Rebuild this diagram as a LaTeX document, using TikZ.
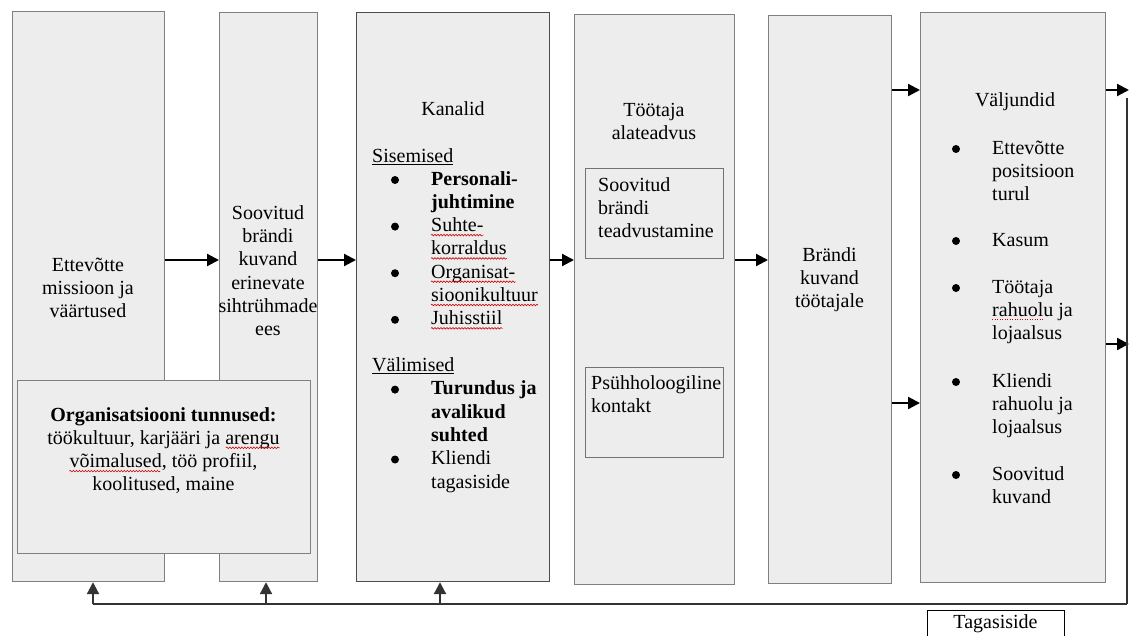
\documentclass[tikz,border=0pt]{standalone}
\usepackage{fontspec}
\setmainfont{Liberation Serif}
\usetikzlibrary{arrows.meta,decorations.pathmorphing}

% underlined headings
\newsavebox\markbox
\newcommand\heading[1]{\sbox\markbox{#1}\rlap{\rule[-2.8pt]{\wd\markbox}{1.3pt}}\usebox\markbox}

\begin{document}
\begin{tikzpicture}[x=1pt,y=-1pt,
  panel/.style={draw=black!50, fill=black!7, line width=1.2pt, inner sep=0pt, anchor=north west},
  innerbox/.style={draw=black!55, fill=black!7, line width=1pt, inner sep=0pt, anchor=north west},
  txt/.style={inner sep=0pt, font=\fontsize{20}{23.3}\selectfont},
  ctxt/.style={txt, anchor=north, align=center},
  ltxt/.style={txt, anchor=north west, align=left},
  line/.style={txt, anchor=base west},
  cline/.style={txt, anchor=base},
  flow/.style={line width=2.2pt, -{Triangle[length=12pt,width=12pt]}},
  back/.style={line width=2pt, draw=black!80},
  bul/.style={fill=black},
  wave/.style={draw=red!80!black, line width=0.6pt, decorate,
    decoration={snake, amplitude=0.8pt, segment length=3pt}},
  dots/.style={draw=red!80!black, line width=0.9pt, dash pattern=on 0.9pt off 1.6pt}
]
\useasboundingbox (0,0) rectangle (1129,635);
\fill[white] (0,0) rectangle (1129,635);

% main columns
\node[panel, minimum width=152pt, minimum height=570pt] (b1) at (12,11) {};
\node[panel, minimum width=98pt,  minimum height=569pt] (b2) at (219,12) {};
\node[panel, minimum width=193pt, minimum height=569pt, draw=black!70] (b3) at (356,12) {};
\node[panel, minimum width=160pt, minimum height=570pt] (b4) at (574,14) {};
\node[panel, minimum width=123pt, minimum height=568pt] (b5) at (768,15) {};
\node[panel, minimum width=185pt, minimum height=570pt] (b6) at (920,12) {};

% overlapping box of organisation features
\node[panel, minimum width=293pt, minimum height=173pt] (org) at (17,380) {};

% boxes inside the fourth column
\node[innerbox, minimum width=138pt, minimum height=90pt] (in1) at (585,168) {};
\node[innerbox, minimum width=138pt, minimum height=90pt] (in2) at (585,367) {};

% feedback label box
\node[draw=black, line width=1pt, fill=white, minimum width=137pt, minimum height=40pt, inner sep=0pt, anchor=north west] (tag) at (927,610) {};

% forward arrows
\draw[flow] (b1.east |- 0,260) -- (b2.west |- 0,260);
\draw[flow] (b2.east |- 0,260) -- (b3.west |- 0,260);
\draw[flow] (b3.east |- 0,260) -- (b4.west |- 0,260);
\draw[flow] (b4.east |- 0,260) -- (b5.west |- 0,260);
\draw[flow] (b5.east |- 0,90) -- (b6.west |- 0,90);
\draw[flow] (b5.east |- 0,403) -- (b6.west |- 0,403);

% outputs and feedback loop
\coordinate (out1) at (1129,90);
\coordinate (out2) at (1129,344);
\coordinate (fbtop) at (1127,98);
\coordinate (fbcorner) at (1127,604);
\coordinate (fbend) at (93,604);
\coordinate (fb2) at (266,604);
\coordinate (fb3) at (440,604);
\draw[flow] (b6.east |- out1) -- (out1);
\draw[flow] (b6.east |- out2) -- (out2);
\draw[back, line width=1.6pt] (fbtop) -- (fbcorner);
\draw[back] (fbcorner) -- (fbend);
\draw[back, flow] (fbend) -- (fbend |- b1.south);
\draw[back, flow] (fb2) -- (fb2 |- b2.south);
\draw[back, flow] (fb3) -- (fb3 |- b3.south);

% column 1
\node[ctxt] (t1) at (88,254.7) {\strut Ettevõtte\\missioon ja\\väärtused};
% column 2
\node[ctxt] (t2) at (268,202.7) {\strut Soovitud\\brändi\\kuvand\\erinevate\\sihtrühmade\\ees};

% organisation features
\node[cline] (g1) at (163.5,421) {\textbf{Organisatsiooni tunnused:}};
\node[cline] (g2) at (163.5,444.3) {töökultuur, karjääri ja arengu};
\node[cline] (g3) at (163.5,467.6) {võimalused, töö profiil,};
\node[cline] (g4) at (163.5,490.9) {koolitused, maine};
\draw[wave] ([xshift=-54pt,yshift=-3.5pt]g2.base east) -- ([yshift=-3.5pt]g2.base east);
\draw[wave] ([yshift=-3.5pt]g3.base west) -- ([xshift=91pt,yshift=-3.5pt]g3.base west);

% column 3: channels
\node[cline] (t3) at (453,115) {Kanalid};
\node[line] (sis) at (372,162) {\heading{Sisemised}};
\node[line] (s1) at (431,185) {\textbf{Personali-}};
\node[line] (s2) at (431,208.3) {\textbf{juhtimine}};
\node[line] (s3) at (431,231.6) {Suhte-};
\node[line] (s4) at (431,254.9) {korraldus};
\node[line] (s5) at (431,278.2) {Organisat-};
\node[line] (s6) at (431,301.5) {sioonikultuur};
\node[line] (s7) at (431,324.8) {Juhisstiil};
\foreach \n in {s3,s4,s5,s6,s7}
  \draw[wave] ([yshift=-3.5pt]\n.base west) -- ([yshift=-3.5pt]\n.base east);
\node[line] (val) at (372,371) {\heading{Välimised}};
\node[ltxt] (vallist) at (431,378.3) {\strut\textbf{Turundus ja}\\\textbf{avalikud}\\\textbf{suhted}\\Kliendi\\tagasiside};
\foreach \y in {180,226.6,273.2,319.8,389.6,459.5}
  \fill[bul] (395,\y) circle (4);

% column 4
\node[ctxt] (t4) at (654,99.7) {\strut Töötaja\\alateadvus};
\node[ltxt] (ti1) at (598,174.7) {\strut Soovitud\\brändi\\teadvustamine};
\node[ltxt] (ti2) at (591,372.7) {\strut Psühholoogiline\\kontakt};

% column 5
\node[ctxt] (t5) at (829.5,244.7) {\strut Brändi\\kuvand\\töötajale};

% column 6: outputs
\node[cline] (t6) at (1015,106) {Väljundid};
\node[ltxt] (o1) at (992,137.7) {\strut Ettevõtte\\positsioon\\turul};
\node[ltxt] (o2) at (992,229.7) {\strut Kasum};
\node[ltxt] (o3) at (992,276.7) {\strut Töötaja\\rahuolu ja\\lojaalsus};
\node[ltxt] (o4) at (992,370.7) {\strut Kliendi\\rahuolu ja\\lojaalsus};
\node[ltxt] (o5) at (992,463.7) {\strut Soovitud\\kuvand};
\draw[dots] ([shift={(0,43)}]o3.north west) -- ([shift={(52,43)}]o3.north west);
\foreach \y in {149,241,288,382,475}
  \fill[bul] (956,\y) circle (4);

% feedback label
\node[cline] (tagtxt) at (995.5,628) {Tagasiside};
\end{tikzpicture}
\end{document}
